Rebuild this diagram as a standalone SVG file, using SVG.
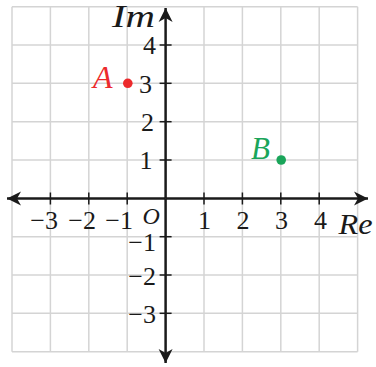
<svg xmlns="http://www.w3.org/2000/svg" width="376" height="367" viewBox="0 0 376 367">
<style>
.grid line{stroke:#d4d4d4;stroke-width:1.5}
.axis{stroke:#1a1a1a;stroke-width:2.5;fill:none}
.tick{stroke:#1a1a1a;stroke-width:1.5}
.num{font-family:"Liberation Serif","Times New Roman",serif;font-size:26px;fill:#1a1a1a}
.it{font-family:"Liberation Serif","Times New Roman",serif;font-style:italic;fill:#1a1a1a}
</style>
<defs>
<marker id="arr" markerUnits="userSpaceOnUse" markerWidth="16" markerHeight="16" viewBox="-14 -8 16 16" refX="0" refY="0" orient="auto">
<path d="M0,0 L-14,-7 L-10,0 L-14,7 Z" fill="#1a1a1a"/>
</marker>
</defs>
<rect width="376" height="367" fill="#ffffff"/>
<g id="grid" class="grid">
<line x1="12" y1="6.7" x2="12" y2="351.7"/>
<line x1="50.4" y1="6.7" x2="50.4" y2="351.7"/>
<line x1="88.8" y1="6.7" x2="88.8" y2="351.7"/>
<line x1="127.2" y1="6.7" x2="127.2" y2="351.7"/>
<line x1="204" y1="6.7" x2="204" y2="351.7"/>
<line x1="242.4" y1="6.7" x2="242.4" y2="351.7"/>
<line x1="280.8" y1="6.7" x2="280.8" y2="351.7"/>
<line x1="319.2" y1="6.7" x2="319.2" y2="351.7"/>
<line x1="357.6" y1="6.7" x2="357.6" y2="351.7"/>
<line x1="12" y1="6.7" x2="357.6" y2="6.7"/>
<line x1="12" y1="45" x2="357.6" y2="45"/>
<line x1="12" y1="83.3" x2="357.6" y2="83.3"/>
<line x1="12" y1="121.7" x2="357.6" y2="121.7"/>
<line x1="12" y1="160" x2="357.6" y2="160"/>
<line x1="12" y1="236.7" x2="357.6" y2="236.7"/>
<line x1="12" y1="275" x2="357.6" y2="275"/>
<line x1="12" y1="313.3" x2="357.6" y2="313.3"/>
<line x1="12" y1="351.7" x2="357.6" y2="351.7"/>
</g>
<g id="connectors">
<line class="axis" x1="165.6" y1="198.5" x2="368" y2="198.5" marker-end="url(#arr)"/>
<line class="axis" x1="165.6" y1="198.5" x2="7" y2="198.5" marker-end="url(#arr)"/>
<line class="axis" x1="165.6" y1="198.5" x2="165.6" y2="8" marker-end="url(#arr)"/>
<line class="axis" x1="165.6" y1="198.5" x2="165.6" y2="363" marker-end="url(#arr)"/>
<g id="ticks" class="tick">
<line x1="50.4" y1="192.5" x2="50.4" y2="204.5"/>
<line x1="88.8" y1="192.5" x2="88.8" y2="204.5"/>
<line x1="127.2" y1="192.5" x2="127.2" y2="204.5"/>
<line x1="204" y1="192.5" x2="204" y2="204.5"/>
<line x1="242.4" y1="192.5" x2="242.4" y2="204.5"/>
<line x1="280.8" y1="192.5" x2="280.8" y2="204.5"/>
<line x1="319.2" y1="192.5" x2="319.2" y2="204.5"/>
<line x1="159.6" y1="45" x2="171.6" y2="45"/>
<line x1="159.6" y1="83.3" x2="171.6" y2="83.3"/>
<line x1="159.6" y1="121.7" x2="171.6" y2="121.7"/>
<line x1="159.6" y1="160" x2="171.6" y2="160"/>
<line x1="159.6" y1="236.7" x2="171.6" y2="236.7"/>
<line x1="159.6" y1="275" x2="171.6" y2="275"/>
<line x1="159.6" y1="313.3" x2="171.6" y2="313.3"/>
</g>
</g>
<g id="x-labels" class="num" text-anchor="end">
<text x="58" y="228.5">−3</text>
<text x="96" y="228.5">−2</text>
<text x="133" y="228.5">−1</text>
<text x="211" y="228.5">1</text>
<text x="249.5" y="228.5">2</text>
<text x="288" y="228.5">3</text>
<text x="327" y="228.5">4</text>
</g>
<g id="y-labels" class="num" text-anchor="end">
<text x="156" y="54">4</text>
<text x="152" y="92.5">3</text>
<text x="154" y="131">2</text>
<text x="152.5" y="169">1</text>
<text x="156" y="250.5">−1</text>
<text x="156" y="284.5">−2</text>
<text x="156" y="323">−3</text>
</g>
<g id="axis-titles">
<text class="it" x="112" y="27" font-size="32" textLength="43" lengthAdjust="spacingAndGlyphs">Im</text>
<text class="it" x="338.5" y="233.5" font-size="30" textLength="34" lengthAdjust="spacingAndGlyphs">Re</text>
<text class="it" x="142.5" y="223.5" font-size="24">O</text>
</g>
<g id="point-A">
<circle cx="127.8" cy="83.3" r="4.8" fill="#ec2a2c"/>
<text class="it" x="93" y="87.5" font-size="32" style="fill:#ec2a2c">A</text>
</g>
<g id="point-B">
<circle cx="281.2" cy="160" r="4.8" fill="#1aa55a"/>
<text class="it" x="251" y="158.5" font-size="31" style="fill:#1aa55a">B</text>
</g>
</svg>
